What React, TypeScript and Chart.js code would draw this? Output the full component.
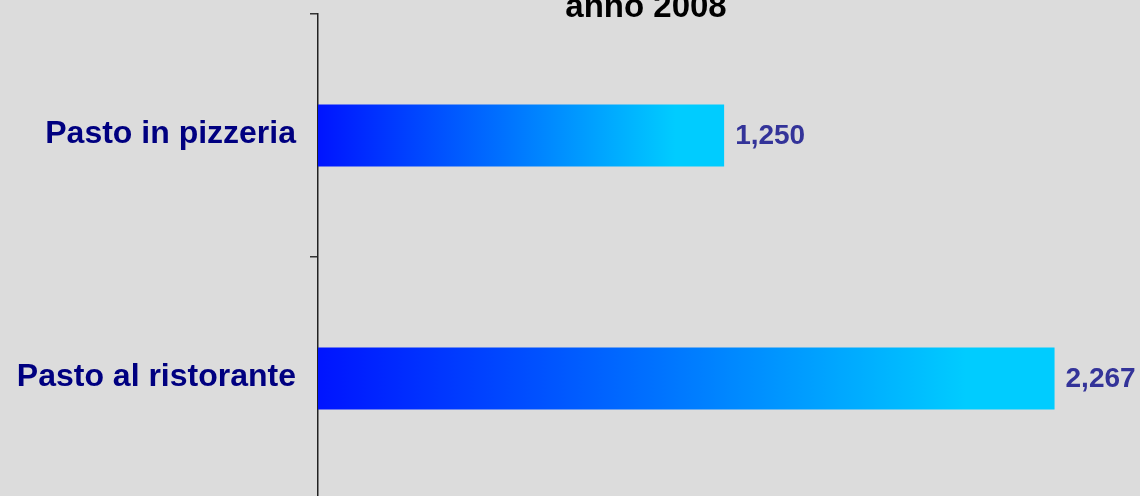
import React, { useEffect, useRef } from "react";
import { Chart, registerables } from "chart.js";

Chart.register(...registerables);

const categories: string[] = ["Pasto in pizzeria", "Pasto al ristorante"];
const values: number[] = [1250, 2267];
const valueLabels: string[] = ["1,250", "2,267"];
const titleText = "anno 2008";

const FONT = '"Liberation Sans", Arial, sans-serif';

const titlePlugin = {
  id: "customTitle",
  afterDraw(chart: any) {
    const ctx = chart.ctx;
    ctx.save();
    ctx.font = `bold 33px ${FONT}`;
    ctx.fillStyle = "#000000";
    ctx.textAlign = "center";
    ctx.textBaseline = "alphabetic";
    ctx.fillText(titleText, 646, 17);
    ctx.restore();
  },
};

const valueLabelPlugin = {
  id: "valueLabels",
  afterDatasetsDraw(chart: any) {
    const ctx = chart.ctx;
    const meta = chart.getDatasetMeta(0);
    ctx.save();
    ctx.font = `bold 28px ${FONT}`;
    ctx.fillStyle = "#333399";
    ctx.textAlign = "left";
    ctx.textBaseline = "middle";
    meta.data.forEach((el: any, i: number) => {
      ctx.fillText(valueLabels[i], el.x + 11, el.y + 1);
    });
    ctx.restore();
  },
};

const bgPlugin = {
  id: "bg",
  beforeDraw(chart: any) {
    const ctx = chart.ctx;
    ctx.save();
    ctx.fillStyle = "#dcdcdc";
    ctx.fillRect(0, 0, chart.width, chart.height);
    ctx.restore();
  },
};

export default function App() {
  const canvasRef = useRef<HTMLCanvasElement | null>(null);

  useEffect(() => {
    document.documentElement.style.overflow = "hidden";
    document.body.style.overflow = "hidden";
    document.body.style.background = "#dcdcdc";
    const canvas = canvasRef.current;
    if (!canvas) return;
    const chart = new Chart(canvas, {
      type: "bar",
      data: {
        labels: categories,
        datasets: [
          {
            data: values,
            backgroundColor: (c: any) => {
              const chart = c.chart;
              const xs = chart.scales && chart.scales.x;
              if (c.dataIndex === undefined || !xs || !chart.chartArea) return "#0080ff";
              const v = c.dataset.data[c.dataIndex];
              const x0 = xs.getPixelForValue(0);
              const x1 = xs.getPixelForValue(v);
              const g = chart.ctx.createLinearGradient(x0, 0, x1, 0);
              g.addColorStop(0, "#0014ff");
              g.addColorStop(0.45, "#0070ff");
              g.addColorStop(0.88, "#00ccff");
              g.addColorStop(1, "#00ccff");
              return g;
            },
            borderWidth: 0,
            barPercentage: 0.255,
            categoryPercentage: 1,
          },
        ],
      },
      options: {
        indexAxis: "y",
        animation: false,
        responsive: true,
        maintainAspectRatio: false,
        layout: { padding: { top: 14, bottom: 20, left: 0, right: 0 } },
        plugins: {
          legend: { display: false },
          title: { display: false },
          tooltip: { enabled: false },
        },
        scales: {
          x: {
            display: false,
            min: 0,
            max: 2530,
          },
          y: {
            offset: true,
            afterFit(scale: any) {
              scale.width = 318;
              scale.paddingTop = 0;
              scale.paddingBottom = 0;
            },
            grid: {
              display: true,
              offset: true,
              drawOnChartArea: false,
              drawTicks: true,
              tickLength: 8,
              color: "#333333",
              lineWidth: 1.5,
            },
            border: { display: true, color: "#222222", width: 1.5 },
            ticks: {
              padding: 14,
              labelOffset: -1,
              color: "#000080",
              font: { family: FONT, size: 32, weight: "bold" },
            },
          },
        },
      },
      plugins: [bgPlugin, valueLabelPlugin, titlePlugin],
    } as any);
    return () => chart.destroy();
  }, []);

  return (
    <div style={{ position: "absolute", left: 0, top: 0, width: 1140, height: 520 }}>
      <canvas ref={canvasRef} />
    </div>
  );
}
